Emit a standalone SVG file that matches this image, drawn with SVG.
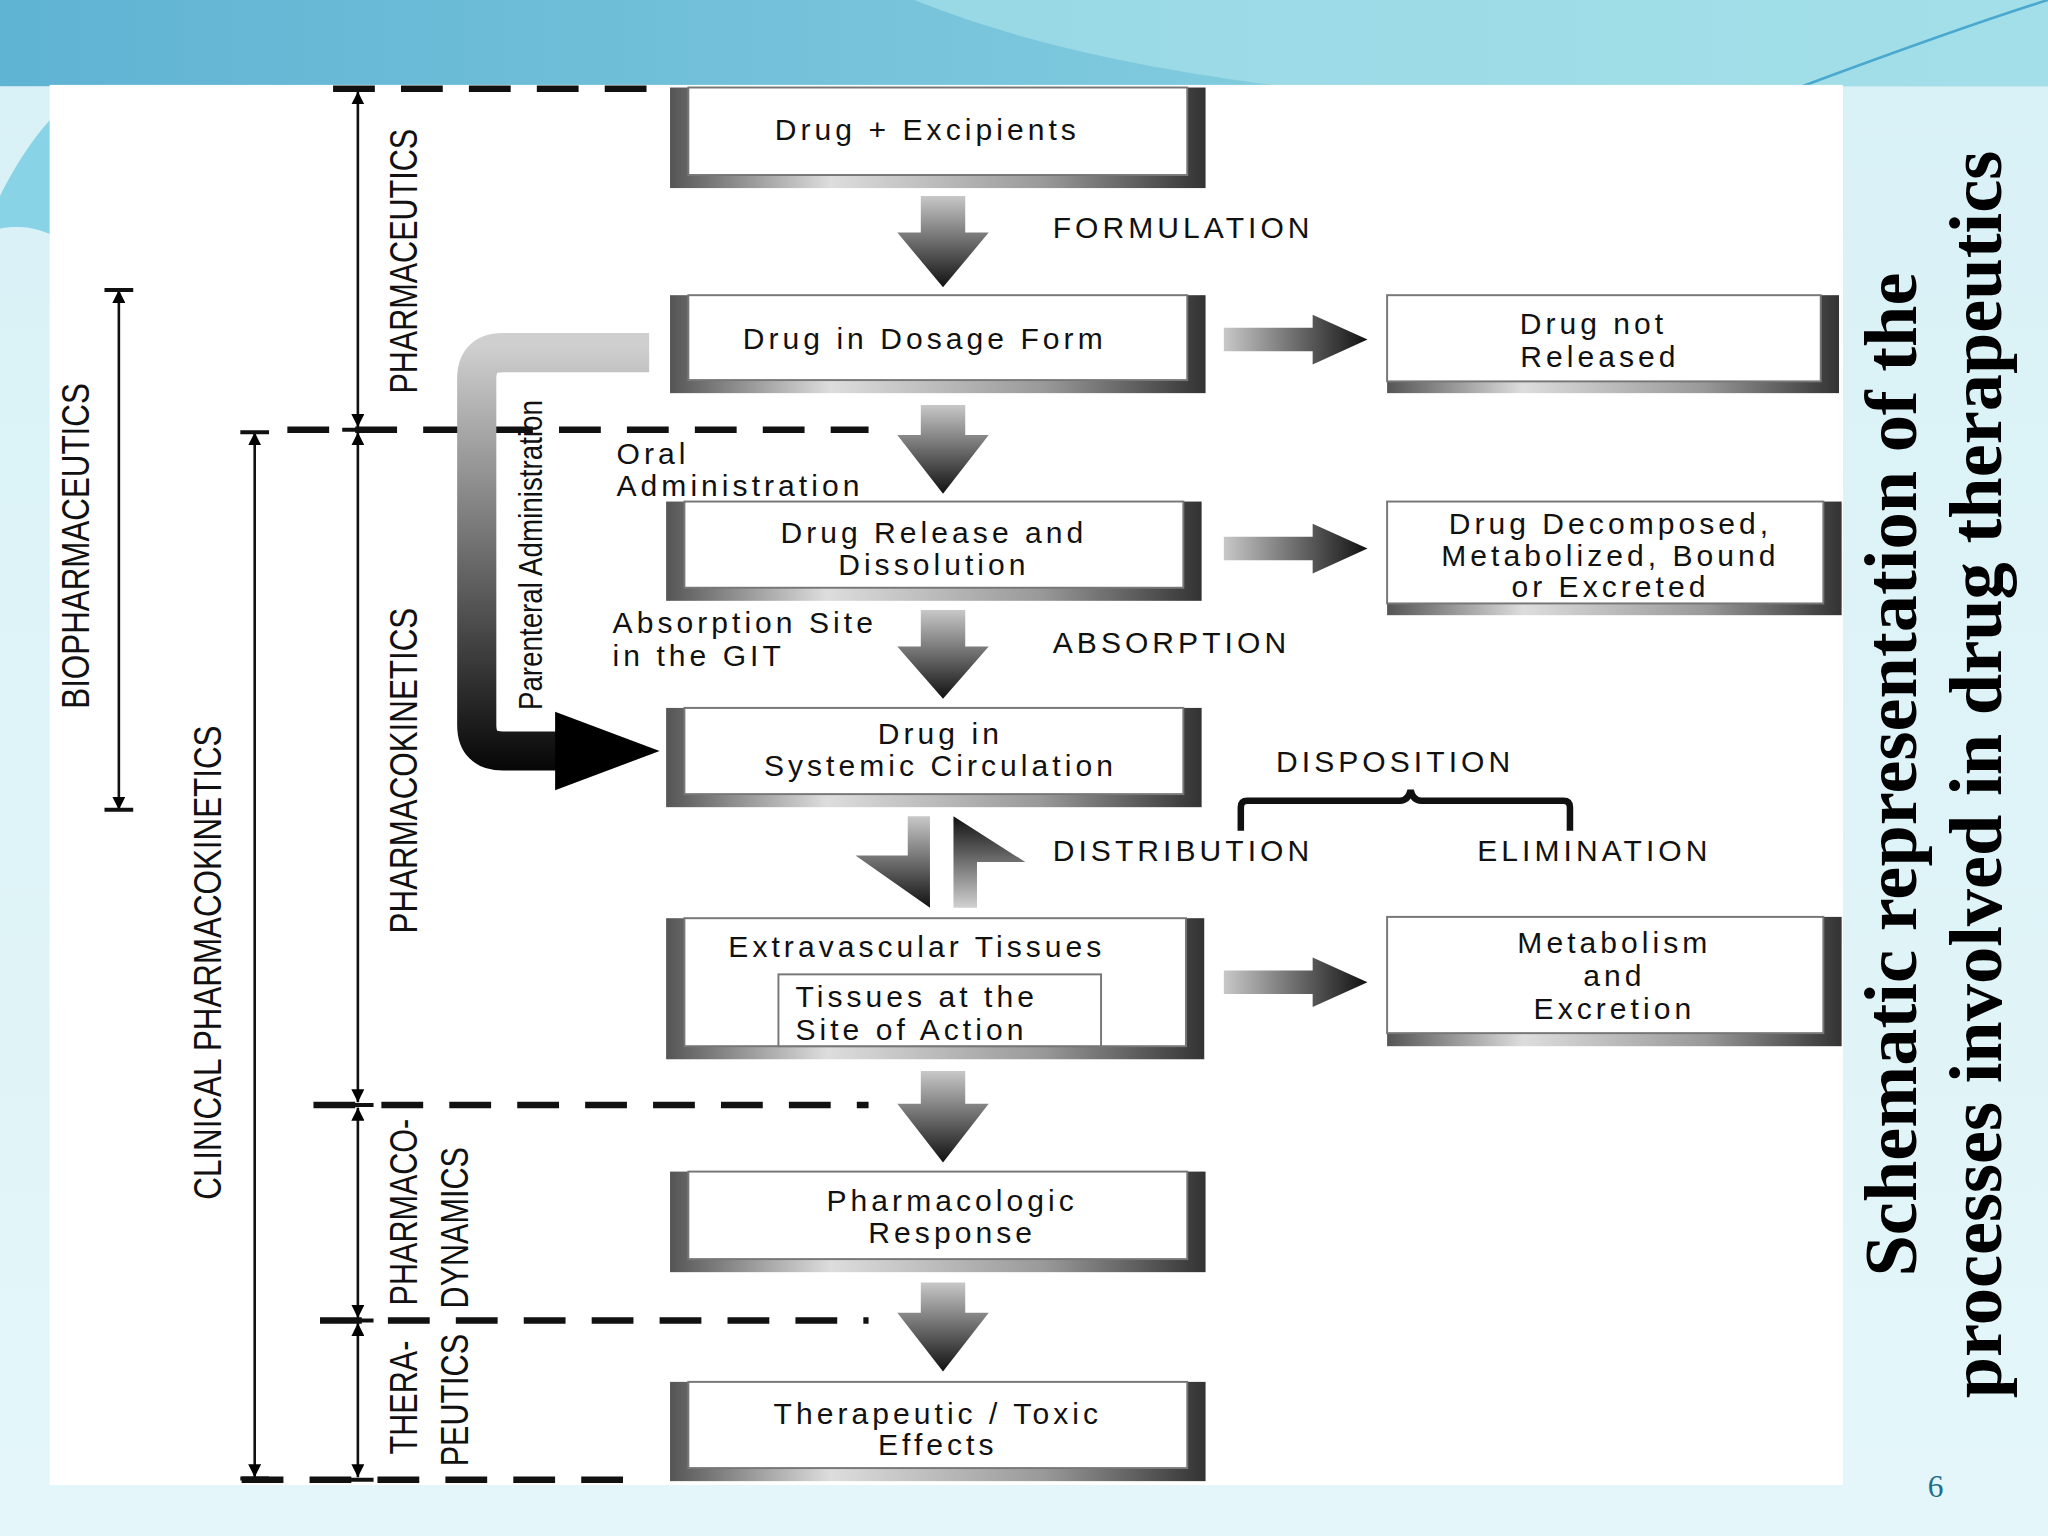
<svg xmlns="http://www.w3.org/2000/svg" width="2048" height="1536" viewBox="0 0 2048 1536">
<defs>
<linearGradient id="bg" x1="0" y1="0" x2="0" y2="1"><stop offset="0" stop-color="#d8f1f6"/><stop offset="1" stop-color="#e4f6f9"/></linearGradient>
<linearGradient id="top" x1="0" y1="0" x2="1" y2="0"><stop offset="0" stop-color="#5fb3d3"/><stop offset="0.5" stop-color="#7ac6dc"/><stop offset="1" stop-color="#9adbe6"/></linearGradient>
<linearGradient id="dn" x1="0" y1="0" x2="0" y2="1"><stop offset="0" stop-color="#c8c8c8"/><stop offset="1" stop-color="#111"/></linearGradient>
<linearGradient id="rt" x1="0" y1="0" x2="1" y2="0"><stop offset="0" stop-color="#c8c8c8"/><stop offset="1" stop-color="#111"/></linearGradient>
<linearGradient id="up" x1="0" y1="1" x2="0" y2="0"><stop offset="0" stop-color="#d0d0d0"/><stop offset="1" stop-color="#111"/></linearGradient>
<linearGradient id="par" gradientUnits="userSpaceOnUse" x1="0" y1="265" x2="0" y2="600"><stop offset="0" stop-color="#cfcfcf"/><stop offset="1" stop-color="#000"/></linearGradient>
<linearGradient id="bev" x1="0" y1="0" x2="1" y2="0"><stop offset="0" stop-color="#555"/><stop offset="0.3" stop-color="#ddd"/><stop offset="0.7" stop-color="#999"/><stop offset="1" stop-color="#333"/></linearGradient>
<marker id="ah" viewBox="0 0 10 10" refX="10" refY="5" markerWidth="5" markerHeight="5" orient="auto-start-reverse"><path d="M0,0 L10,5 L0,10 z" fill="#000"/></marker>
</defs>
<style>
.face{fill:#fff;stroke:#777;stroke-width:1.5}
.t{font-family:"Liberation Sans",Arial,sans-serif;font-size:23px;fill:#111;letter-spacing:3.1px}
.tc{text-anchor:middle}
.s{font-family:"Liberation Sans",Arial,sans-serif;font-size:30px;fill:#111;text-anchor:middle}
.dash{stroke:#111;stroke-width:5;stroke-dasharray:32 20;fill:none}
.v{stroke:#111;stroke-width:2;fill:none}
</style>
<rect width="2048" height="1536" fill="url(#bg)"/>
<g transform="scale(1.30612)">
<rect x="0" y="0" width="1568" height="66" fill="url(#top)"/>
<path d="M700,0 C800,40 900,55 980,66 L1568,66 L1568,0 Z" fill="#a6e1ea" opacity="0.7"/>
<path d="M0,150 C20,110 40,90 40,90 L40,180 C20,170 0,175 0,175 Z" fill="#66c6e0" opacity="0.7"/>
<path d="M1380,66 C1450,40 1520,15 1568,0" stroke="#4aa8cf" stroke-width="2" fill="none"/>
<rect x="38" y="65" width="1373" height="1072" fill="#fff"/>
<text x="1482" y="1146" font-family="Liberation Serif,serif" font-size="24" fill="#1f6f8b" text-anchor="middle">6</text>
<g font-family="Liberation Serif,serif" font-weight="bold" font-size="57" fill="#000" text-anchor="middle">
<text transform="translate(1467,593) rotate(-90)">Schematic representation of the</text>
<text transform="translate(1532,593) rotate(-90)">processes involved in drug therapeutics</text>
</g>
<g id="scale">
<path class="dash" d="M255,68 H495 M220,329 H665 M240,846 H665 M245,1011 H665 M185,1133 H490"/>
<line class="v" x1="274" y1="70" x2="274" y2="327" marker-start="url(#ah)" marker-end="url(#ah)"/>
<line class="v" x1="274" y1="331" x2="274" y2="844" marker-start="url(#ah)" marker-end="url(#ah)"/>
<line class="v" x1="274" y1="848" x2="274" y2="1009" marker-start="url(#ah)" marker-end="url(#ah)"/>
<line class="v" x1="274" y1="1013" x2="274" y2="1131" marker-start="url(#ah)" marker-end="url(#ah)"/>
<line class="v" x1="91" y1="222" x2="91" y2="620" marker-start="url(#ah)" marker-end="url(#ah)"/>
<line class="v" x1="195" y1="331" x2="195" y2="1131" marker-start="url(#ah)" marker-end="url(#ah)"/>
<path d="M80,222 H102 M80,620 H102 M184,331 H206 M184,1132 H206 M262,68 H286 M262,329 H286 M262,846 H286 M262,1011 H286 M262,1133 H286" stroke="#111" stroke-width="3"/>
<text class="s" transform="translate(319,200) rotate(-90) scale(0.78,1)">PHARMACEUTICS</text>
<text class="s" transform="translate(68,418) rotate(-90) scale(0.8,1)">BIOPHARMACEUTICS</text>
<text class="s" transform="translate(169,737) rotate(-90) scale(0.8,1)">CLINICAL PHARMACOKINETICS</text>
<text class="s" transform="translate(319,590) rotate(-90) scale(0.8,1)">PHARMACOKINETICS</text>
<text class="s" transform="translate(319,928) rotate(-90) scale(0.78,1)">PHARMACO-</text>
<text class="s" transform="translate(358,940) rotate(-90) scale(0.78,1)">DYNAMICS</text>
<text class="s" transform="translate(319,1070) rotate(-90) scale(0.78,1)">THERA-</text>
<text class="s" transform="translate(358,1072) rotate(-90) scale(0.78,1)">PEUTICS</text>
</g>
<g id="connectors">
<g fill="url(#dn)">
<path d="M705,150 H739 V178 H757 L722,220 L687,178 H705 Z"/>
<path d="M705,310 H739 V333 H757 L722,378 L687,333 H705 Z"/>
<path d="M705,467 H739 V495 H757 L722,535 L687,495 H705 Z"/>
<path d="M705,820 H739 V845 H757 L722,890 L687,845 H705 Z"/>
<path d="M705,982 H739 V1005 H757 L722,1050 L687,1005 H705 Z"/>
<path d="M695,625 H712 V695 L655,655 H695 Z"/>
</g>
<path d="M730,695 H748 V660 H785 L730,625 Z" fill="url(#up)"/>
<g fill="url(#rt)">
<path d="M937,251 H1005 V241 L1047,260 L1005,279 V269 H937 Z"/>
<path d="M937,411 H1005 V401 L1047,420 L1005,439 V429 H937 Z"/>
<path d="M937,743 H1005 V733 L1047,752 L1005,771 V761 H937 Z"/>
</g>
<path d="M497,270 H385 Q365,270 365,290 V555 Q365,575 385,575 H432" stroke="url(#par)" stroke-width="30" fill="none"/>
<path d="M425,545 L505,575 L425,605 Z" fill="#000"/>
<path d="M950,636 V618 Q950,613 955,613 H1072 Q1078,613 1080,605 Q1082,613 1088,613 H1197 Q1202,613 1202,618 V636" stroke="#111" stroke-width="5" fill="none"/>
<text class="t" x="806" y="182">FORMULATION</text>
<text class="t" x="806" y="500">ABSORPTION</text>
<text class="t" x="977" y="591">DISPOSITION</text>
<text class="t" x="806" y="659">DISTRIBUTION</text>
<text class="t" x="1131" y="659">ELIMINATION</text>
<text class="t" x="472" y="355">Oral</text>
<text class="t" x="472" y="380">Administration</text>
<text class="t" x="469" y="485">Absorption Site</text>
<text class="t" x="469" y="510">in the GIT</text>
<text class="t tc" style="letter-spacing:0;font-size:25px" transform="translate(415,425) rotate(-90) scale(0.85,1)">Parenteral Administration</text>
</g>
<g id="n1"><rect x="513" y="67" width="410" height="77" fill="url(#bev)"/><rect class="face" x="527" y="67" width="382" height="67"/><text class="t tc" x="710" y="107">Drug + Excipients</text></g>
<g id="n2"><rect x="513" y="226" width="410" height="75" fill="url(#bev)"/><rect class="face" x="527" y="226" width="382" height="65"/><text class="t tc" x="708" y="267">Drug in Dosage Form</text></g>
<g id="n3"><rect x="510" y="384" width="410" height="76" fill="url(#bev)"/><rect class="face" x="524" y="384" width="382" height="66"/><text class="t tc" x="715" y="416">Drug Release and</text><text class="t tc" x="715" y="440">Dissolution</text></g>
<g id="n4"><rect x="510" y="542" width="410" height="76" fill="url(#bev)"/><rect class="face" x="524" y="542" width="382" height="66"/><text class="t tc" x="720" y="570">Drug in</text><text class="t tc" x="720" y="594">Systemic Circulation</text></g>
<g id="n5"><rect x="510" y="703" width="412" height="108" fill="url(#bev)"/><rect class="face" x="524" y="703" width="384" height="98"/><rect class="face" x="596" y="746" width="247" height="55"/><text class="t tc" x="702" y="733">Extravascular Tissues</text><text class="t" x="609" y="771">Tissues at the</text><text class="t" x="609" y="796">Site of Action</text></g>
<g id="n6"><rect x="513" y="897" width="410" height="77" fill="url(#bev)"/><rect class="face" x="527" y="897" width="382" height="67"/><text class="t tc" x="729" y="927">Pharmacologic</text><text class="t tc" x="729" y="952">Response</text></g>
<g id="n7"><rect x="513" y="1058" width="410" height="76" fill="url(#bev)"/><rect class="face" x="527" y="1058" width="382" height="66"/><text class="t tc" x="718" y="1090">Therapeutic / Toxic</text><text class="t tc" x="718" y="1114">Effects</text></g>
<g id="r1"><rect x="1062" y="226" width="346" height="75" fill="url(#bev)"/><rect class="face" x="1062" y="226" width="332" height="66"/><text class="t tc" x="1220" y="256">Drug not</text><text class="t tc" x="1225" y="281">Released</text></g>
<g id="r2"><rect x="1062" y="384" width="348" height="87" fill="url(#bev)"/><rect class="face" x="1062" y="384" width="334" height="78"/><text class="t tc" x="1233" y="409">Drug Decomposed,</text><text class="t tc" x="1233" y="433">Metabolized, Bound</text><text class="t tc" x="1233" y="457">or Excreted</text></g>
<g id="r3"><rect x="1062" y="702" width="348" height="99" fill="url(#bev)"/><rect class="face" x="1062" y="702" width="334" height="89"/><text class="t tc" x="1236" y="730">Metabolism</text><text class="t tc" x="1236" y="755">and</text><text class="t tc" x="1236" y="780">Excretion</text></g>
</g>
</svg>
